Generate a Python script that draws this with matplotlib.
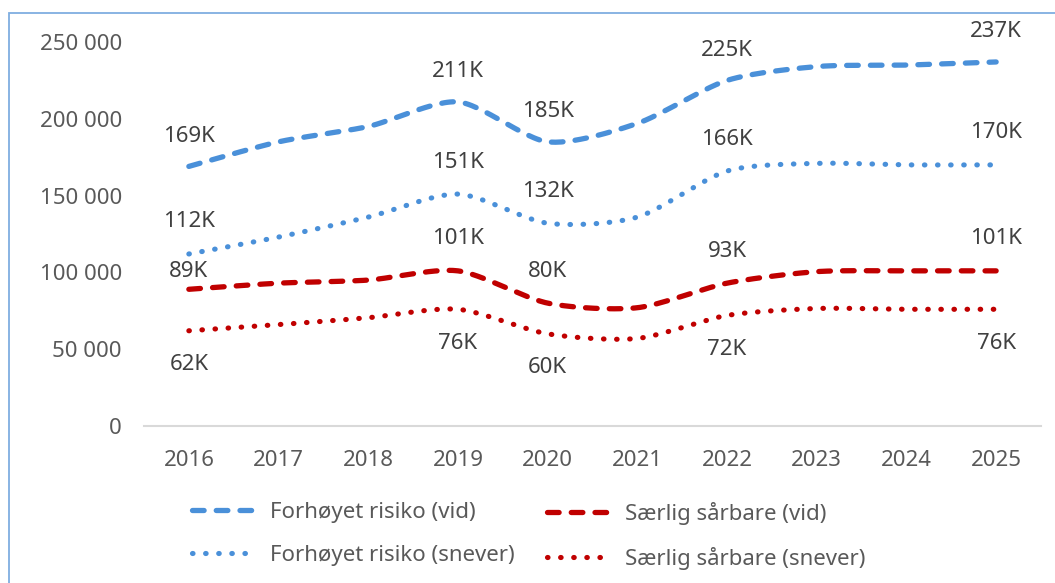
import numpy as np
import matplotlib
matplotlib.use("Agg")
from matplotlib import pyplot as plt
from matplotlib.lines import Line2D
from matplotlib.patches import Rectangle
from matplotlib.ticker import FuncFormatter

years = [2016, 2017, 2018, 2019, 2020, 2021, 2022, 2023, 2024, 2025]

forhoyet_vid = [169000, 185000, 195000, 211000, 185000, 197000, 225000, 234000, 235000, 237000]
forhoyet_snever = [112000, 123000, 136000, 151000, 132000, 136000, 166000, 171000, 170000, 170000]
saerlig_vid = [89000, 93000, 95000, 101000, 80000, 77000, 93000, 100500, 101000, 101000]
saerlig_snever = [62000, 66000, 70500, 76000, 60000, 57000, 72000, 76500, 76000, 76000]

series_names = ["Forhøyet risiko (vid)", "Særlig sårbare (vid)",
                "Forhøyet risiko (snever)", "Særlig sårbare (snever)"]

# years that get a data label
label_years = [2016, 2019, 2020, 2022, 2025]

BLUE = "#4A90D9"
RED = "#C00000"
plt.rcParams['font.family'] = ['Noto Sans', 'DejaVu Sans']


def smooth(x, y, k=0.13, n=30):
    # excel-style smoothed line (catmull-rom like cubic bezier)
    x = np.asarray(x, float)
    y = np.asarray(y, float)
    pts = np.column_stack([x, y])
    pts = np.vstack([pts[:1], pts, pts[-1:]])
    t = np.linspace(0, 1, n)[:, None]
    out = []
    for i in range(1, len(pts) - 2):
        p0, p3 = pts[i], pts[i + 1]
        p1 = p0 + (pts[i + 1] - pts[i - 1]) * k
        p2 = p3 - (pts[i + 2] - pts[i]) * k
        b = (1 - t) ** 3 * p0 + 3 * (1 - t) ** 2 * t * p1 + 3 * (1 - t) * t ** 2 * p2 + t ** 3 * p3
        out.append(b)
    out = np.vstack(out)
    return out[:, 0], out[:, 1]


fig = plt.figure(figsize=(10.55, 5.83), dpi=100)
ax = fig.add_axes([144 / 1055, 1 - 426 / 583, 897 / 1055, 384 / 583])

# light blue frame around the chart
fig.patches.append(Rectangle((9 / 1055, -0.2), 1.2, 1 - 13 / 583 + 0.2, transform=fig.transFigure,
                             fill=False, edgecolor="#7FAEE0", linewidth=1.3))

x = np.arange(len(years))
dash = dict(linewidth=3.8, dashes=(2.2, 2.3), dash_capstyle="round", solid_capstyle="round")
dot = dict(linewidth=3.7, dashes=(0.1, 2.45), dash_capstyle="round")

styles = [
    (forhoyet_vid, BLUE, dash, 30),
    (saerlig_vid, RED, dash, 32),
    (forhoyet_snever, BLUE, dot, 32),
    (saerlig_snever, RED, dot, -34),
]

handles = []
for (vals, col, st, off), name in zip(styles, series_names):
    sx, sy = smooth(x, vals)
    ax.plot(sx, sy, color=col, clip_on=False, **st)
    handles.append(Line2D([], [], color=col, **st))
    for yr in label_years:
        i = years.index(yr)
        o = off
        if vals is saerlig_vid and yr == 2016:
            o = 18
        ax.annotate(f"{round(vals[i] / 1000):.0f}K", (x[i], vals[i]), xytext=(0, o * 0.72),
                    textcoords="offset points", ha="center", va="center",
                    fontsize=16, color="#404040", annotation_clip=False)

ax.set_xlim(-0.5, 9.5)
ax.set_ylim(0, 250000)
ax.set_yticks(np.arange(0, 250001, 50000))
ax.yaxis.set_major_formatter(FuncFormatter(lambda v, p: f"{int(v):,}".replace(",", " ")))
ax.set_xticks(x)
ax.set_xticklabels([str(y) for y in years])
ax.tick_params(axis="both", length=0, labelsize=16, labelcolor="#595959")
ax.tick_params(axis="y", pad=16)
ax.tick_params(axis="x", pad=17)
for s in ["top", "right", "left"]:
    ax.spines[s].set_visible(False)
ax.spines["bottom"].set_color("#D9D9D9")
ax.spines["bottom"].set_linewidth(1.5)

leg_kw = dict(loc="upper left", frameon=False, fontsize=16, handlelength=2.85,
              handletextpad=0.65, labelspacing=0.98, borderpad=0, borderaxespad=0,
              labelcolor="#595959")
l1 = fig.legend([handles[0], handles[2]], [series_names[0], series_names[2]],
                bbox_to_anchor=(192 / 1055, 1 - 502 / 583), **leg_kw)
l2 = fig.legend([handles[1], handles[3]], [series_names[1], series_names[3]],
                bbox_to_anchor=(547 / 1055, 1 - 502 / 583), **leg_kw)

fig.savefig("out.png", dpi=100)
